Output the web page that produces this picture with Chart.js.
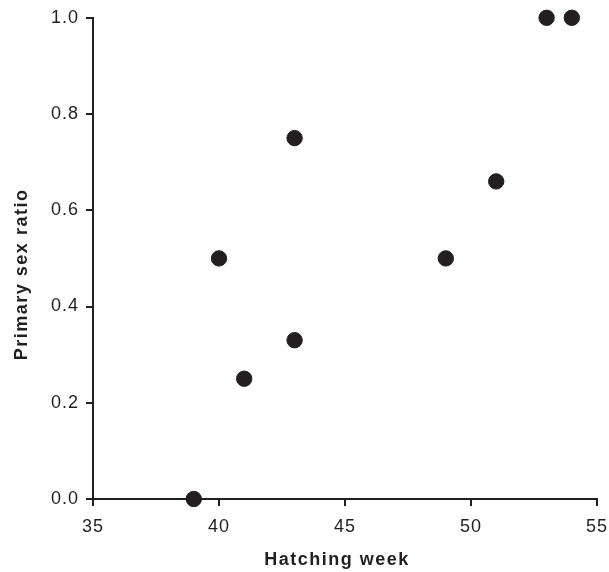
<!DOCTYPE html>
<html><head><meta charset="utf-8">
<script src="https://cdn.jsdelivr.net/npm/chart.js@4"></script>
<style>html,body{margin:0;padding:0;background:#fff}#w{width:609px;height:572px}</style>
</head><body><div id="w"><canvas id="c" width="609" height="572"></canvas></div>
<script>
const hatchingWeek = [39, 40, 41, 43, 43, 49, 51, 53, 54];
const primarySexRatio = [0.0, 0.5, 0.25, 0.75, 0.33, 0.5, 0.66, 1.0, 1.0];
const xTitle = 'Hatching week';
const yTitle = 'Primary sex ratio';
const ink = '#231f20';
const points = hatchingWeek.map((x, i) => ({x, y: primarySexRatio[i]}));

const spacing = {
  id: 'spacing',
  beforeLayout(chart) { chart.ctx.letterSpacing = '1px'; },
  beforeDraw(chart) { chart.ctx.letterSpacing = '1px'; }
};
const titles = {
  id: 'titles',
  afterDraw(chart) {
    const {ctx, chartArea: a} = chart;
    ctx.save();
    ctx.letterSpacing = '1.5px';
    ctx.fillStyle = ink;
    ctx.font = 'bold 18px "Liberation Sans"';
    ctx.textAlign = 'center';
    ctx.textBaseline = 'middle';
    ctx.fillText(xTitle, (a.left + a.right) / 2 - 8, a.bottom + 61);
    ctx.translate(22, (a.top + a.bottom) / 2 + 16);
    ctx.rotate(-Math.PI / 2);
    ctx.fillText(yTitle, 0, 0);
    ctx.restore();
  }
};
new Chart(document.getElementById('c'), {
  type: 'scatter',
  data: {datasets: [{data: points, backgroundColor: ink, borderColor: ink, pointRadius: 7.7, pointHoverRadius: 7.7, clip: false}]},
  plugins: [spacing, titles],
  options: {
    responsive: false, animation: false, devicePixelRatio: 1,
    layout: {padding: {top: 17, right: 12, left: 0, bottom: 0}},
    plugins: {legend: {display: false}, tooltip: {enabled: false}},
    scales: {
      x: {type: 'linear', min: 35, max: 55,
        afterFit: s => { s.height = 73; s.paddingRight = 0; s.paddingLeft = 0; },
        ticks: {stepSize: 5, color: ink, font: {family: 'Liberation Sans', size: 18}, padding: 10},
        grid: {drawOnChartArea: false, tickLength: 7, color: ink, lineWidth: 2},
        border: {display: true, color: ink, width: 2},
        title: {display: false}
      },
      y: {type: 'linear', min: 0, max: 1,
        afterFit: s => { s.width = 93; },
        ticks: {stepSize: 0.2, color: ink, font: {family: 'Liberation Sans', size: 18}, padding: 7, callback: v => v.toFixed(1)},
        grid: {drawOnChartArea: false, tickLength: 7, color: ink, lineWidth: 2},
        border: {display: true, color: ink, width: 2},
        title: {display: false}
      }
    }
  }
});
</script></body></html>
